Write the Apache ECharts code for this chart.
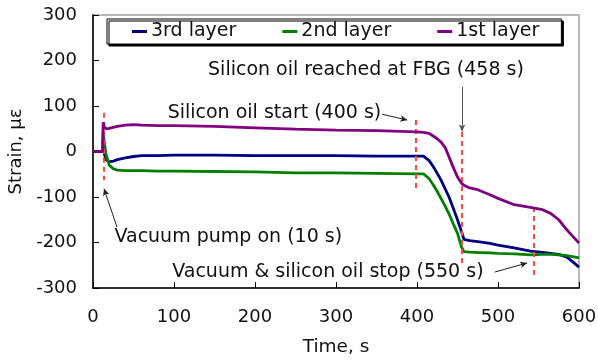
<!DOCTYPE html>
<html>
<head>
<meta charset="utf-8">
<script src="https://cdn.jsdelivr.net/npm/echarts@6/dist/echarts.min.js"></script>
<style>html,body{margin:0;padding:0;background:#fff}#c{width:598px;height:360px}</style>
</head>
<body>
<div id="c"></div>
<script>
// ---- data ----
const seriesNames = ['3rd layer', '2nd layer', '1st layer'];
const timeS = [0, 12, 12.5, 14, 16, 20, 25, 30, 40, 50, 60, 80, 100, 150, 200, 250, 300, 350, 400, 408, 415, 420, 425, 430, 435, 440, 445, 450, 455, 458, 465, 475, 490, 500, 520, 540, 555, 565, 575, 585, 592, 600];
const layer3 = [0, 0, 30, -5, -18, -23, -21, -18, -14, -11, -9, -9, -8, -8, -9, -9, -9, -10, -10, -10, -20, -33, -48, -64, -83, -102, -126, -150, -176, -193, -196, -198, -202, -206, -212, -219, -222, -224, -226, -232, -242, -254];
const layer2 = [0, 0, 45, 20, -5, -30, -38, -41, -42, -42, -42, -43, -43, -44, -45, -47, -47, -48, -49, -49, -60, -73, -88, -104, -121, -139, -160, -180, -210, -220, -221, -222, -223, -224, -225, -227, -226, -226, -227, -229, -231, -234];
const layer1 = [0, 0, 64, 55, 50, 51, 53, 55, 58, 59, 58, 57, 57, 55, 52, 49, 47, 46, 43, 42, 40, 34, 28, 20, 8, -14, -36, -56, -70, -74, -80, -84, -95, -103, -117, -123, -128, -136, -150, -172, -186, -201];
const xTicks = {min: 0, max: 600, step: 100};
const yTicks = {min: -300, max: 300, step: 100};
// event markers: [time, top strain, bottom strain]
const eventLines = [[13.5, 85, -63], [399, 69, -89], [455.6, 43, -245], [544, -122, -272]];
// annotations: [text, time, strain]
const notes = [
  ['Silicon oil reached at FBG (458 s)', 337, 179],
  ['Silicon oil start (400 s)', 224, 85],
  ['Vacuum pump on (10 s)', 167, -188],
  ['Vacuum & silicon oil stop (550 s)', 290, -265]
];
// arrows: [t0, v0, t1, v1, colour]
const arrows = [
  [455.6, 142, 455.6, 44, '#555'],
  [357, 82, 388, 69, '#222'],
  [29.6, -166, 13.6, -82, '#222'],
  [496, -265, 536, -245, '#222']
];
const colors = ['#000080', '#008000', '#800080'];

const FONT = 'DejaVu Sans';
const chart = echarts.init(document.getElementById('c'), null, {renderer: 'canvas'});
const mk = (arr) => timeS.map((t, i) => [t, arr[i]]);
const dataSets = [layer3, layer2, layer1];

const series = dataSets.map((d, i) => ({
  name: seriesNames[i],
  type: 'line',
  data: mk(d),
  showSymbol: false,
  symbol: 'none',
  lineStyle: {color: colors[i], width: 2.8},
  itemStyle: {color: colors[i]},
  z: 3 + i,
  animation: false
}));

// annotation series (marks only)
series.push({
  type: 'line',
  data: [],
  silent: true,
  animation: false,
  z: 10,
  markLine: {
    silent: true,
    animation: false,
    label: {show: false},
    symbol: ['none', 'none'],
    lineStyle: {color: '#ff4545', width: 2, type: [5, 4]},
    data: eventLines.map(e => [{coord: [e[0], e[1]]}, {coord: [e[0], e[2]]}])
  }
});
series.push({
  type: 'line',
  data: [],
  silent: true,
  animation: false,
  z: 11,
  markLine: {
    silent: true,
    animation: false,
    label: {show: false},
    symbol: ['none', 'arrow'],
    symbolSize: [5, 7],
    data: arrows.map(a => [{coord: [a[0], a[1]], lineStyle: {color: a[4], width: 1, type: 'solid'}}, {coord: [a[2], a[3]]}])
  },
  markPoint: {
    silent: true,
    animation: false,
    symbol: 'circle',
    symbolSize: 0,
    label: {show: true, position: 'inside', color: '#111', fontFamily: FONT, fontSize: 19},
    data: notes.map(n => ({coord: [n[1], n[2]], value: n[0], label: {formatter: n[0]}}))
  }
});

chart.setOption({
  animation: false,
  textStyle: {fontFamily: FONT},
  grid: {left: 93, right: 19, top: 15, bottom: 72, containLabel: false, outerBoundsMode: 'none', show: true, borderColor: '#b8b8b8', borderWidth: 2, backgroundColor: 'transparent'},
  legend: {
    data: seriesNames,
    left: 107, top: 19,
    padding: [3, 22, 3, 25],
    itemGap: 46,
    itemWidth: 15, itemHeight: 3,
    icon: 'rect',
    backgroundColor: '#fff',
    borderColor: '#000', borderWidth: 1,
    shadowColor: '#000', shadowOffsetX: 2, shadowOffsetY: 2, shadowBlur: 0,
    textStyle: {fontFamily: FONT, fontSize: 19, color: '#111', padding: [0, 0, 0, -1]}
  },
  xAxis: {
    type: 'value', min: xTicks.min, max: xTicks.max, interval: xTicks.step,
    name: 'Time, s', nameLocation: 'middle', nameGap: 50,
    nameTextStyle: {fontFamily: FONT, fontSize: 18.5, color: '#111'},
    axisLine: {onZero: false, lineStyle: {color: '#000', width: 1.5}},
    axisTick: {inside: true, length: 6, lineStyle: {color: '#000'}},
    axisLabel: {fontFamily: FONT, fontSize: 18, color: '#111', margin: 20},
    splitLine: {show: false}
  },
  yAxis: {
    type: 'value', min: yTicks.min, max: yTicks.max, interval: yTicks.step,
    name: 'Strain, με', nameLocation: 'middle', nameGap: 66,
    nameTextStyle: {fontFamily: FONT, fontSize: 18, color: '#111'},
    axisLine: {onZero: false, lineStyle: {color: '#000', width: 1.5}},
    axisTick: {inside: true, length: 6, lineStyle: {color: '#000'}},
    axisLabel: {fontFamily: FONT, fontSize: 18, color: '#111', margin: 16},
    splitLine: {show: false}
  },
  series: series
});
</script>
</body>
</html>
